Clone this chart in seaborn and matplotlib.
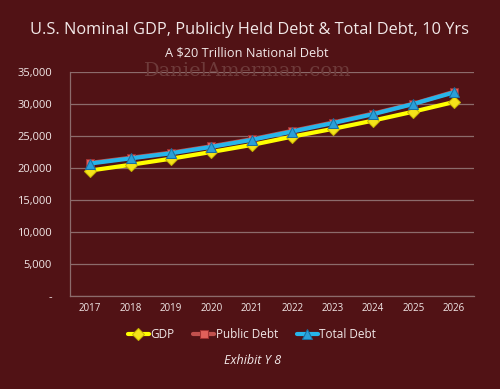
import matplotlib
matplotlib.use("Agg")
import matplotlib.pyplot as plt
import seaborn as sns
import pandas as pd
from matplotlib.ticker import FuncFormatter

# values (billions of dollars)
years = [2017, 2018, 2019, 2020, 2021, 2022, 2023, 2024, 2025, 2026]
gdp = [19600, 20500, 21450, 22500, 23600, 24900, 26100, 27400, 28800, 30300]
public_debt = [20800, 21600, 22400, 23400, 24500, 25800, 27100, 28500, 30050, 31900]
total_debt = [20700, 21500, 22300, 23300, 24400, 25700, 27000, 28400, 30000, 31800]

BG = "#511215"
GRID = "#8c6b6b"
TXT = "#f2e8e8"

sns.set_theme(style="white")
plt.rcParams["font.family"] = ["Open Sans", "DejaVu Sans"]

df = pd.DataFrame({"year": [str(y) for y in years], "GDP": gdp,
                   "Public Debt": public_debt, "Total Debt": total_debt})

fig = plt.figure(figsize=(5, 3.89), dpi=100, facecolor=BG)
ax = fig.add_axes([0.14, 0.239, 0.808, 0.576])
ax.set_facecolor(BG)

styles = {
    "GDP": dict(color="#ffff00", marker="D", markersize=6, markerfacecolor="#f4e31a",
                markeredgecolor="#c9b800"),
    "Public Debt": dict(color="#c0504d", marker="s", markersize=6, markerfacecolor="#e0605a",
                        markeredgecolor="#a03030"),
    "Total Debt": dict(color="#27b5ea", marker="^", markersize=7, markerfacecolor="#2a9fd8",
                       markeredgecolor="#1a6fa0"),
}
for name, st in styles.items():
    sns.lineplot(data=df, x="year", y=name, ax=ax, label=name, linewidth=3,
                 sort=False, **st)

ax.set_ylim(0, 35000)
ax.set_yticks(range(0, 35001, 5000))
ax.yaxis.set_major_formatter(FuncFormatter(lambda v, p: "-" if v == 0 else f"{int(v):,}"))
ax.set_xlim(-0.5, len(years) - 0.5)
ax.grid(axis="y", color=GRID, linewidth=0.9)
ax.set_axisbelow(True)
for s in ["top", "right"]:
    ax.spines[s].set_visible(False)
for s in ["left", "bottom"]:
    ax.spines[s].set_color(GRID)
    ax.spines[s].set_linewidth(0.9)
ax.tick_params(axis="y", colors=TXT, labelsize=8, length=0, pad=13)
ax.tick_params(axis="x", colors=TXT, labelsize=7, length=0, pad=5)
ax.set_xlabel("")
ax.set_ylabel("")

leg = ax.legend(loc="upper center", bbox_to_anchor=(0.45, -0.095), ncol=3, frameon=False,
                fontsize=8.5, handlelength=1.8, handletextpad=0.1, columnspacing=1.6,
                labelcolor=TXT)

fig.text(0.5, 0.922, "U.S. Nominal GDP, Publicly Held Debt & Total Debt, 10 Yrs",
         ha="center", va="center", color=TXT, fontsize=11.8)
fig.text(0.494, 0.865, "A $20 Trillion National Debt", ha="center", va="center",
         color=TXT, fontsize=9.2)
fig.text(0.495, 0.818, "DanielAmerman.com", ha="center", va="center",
         color="#6e3a3a", fontsize=14, family="DejaVu Serif")
fig.text(0.505, 0.074, "Exhibit Y 8", ha="center", va="center", color=TXT,
         fontsize=9, style="italic")

fig.savefig("out.png", dpi=100, facecolor=BG)
